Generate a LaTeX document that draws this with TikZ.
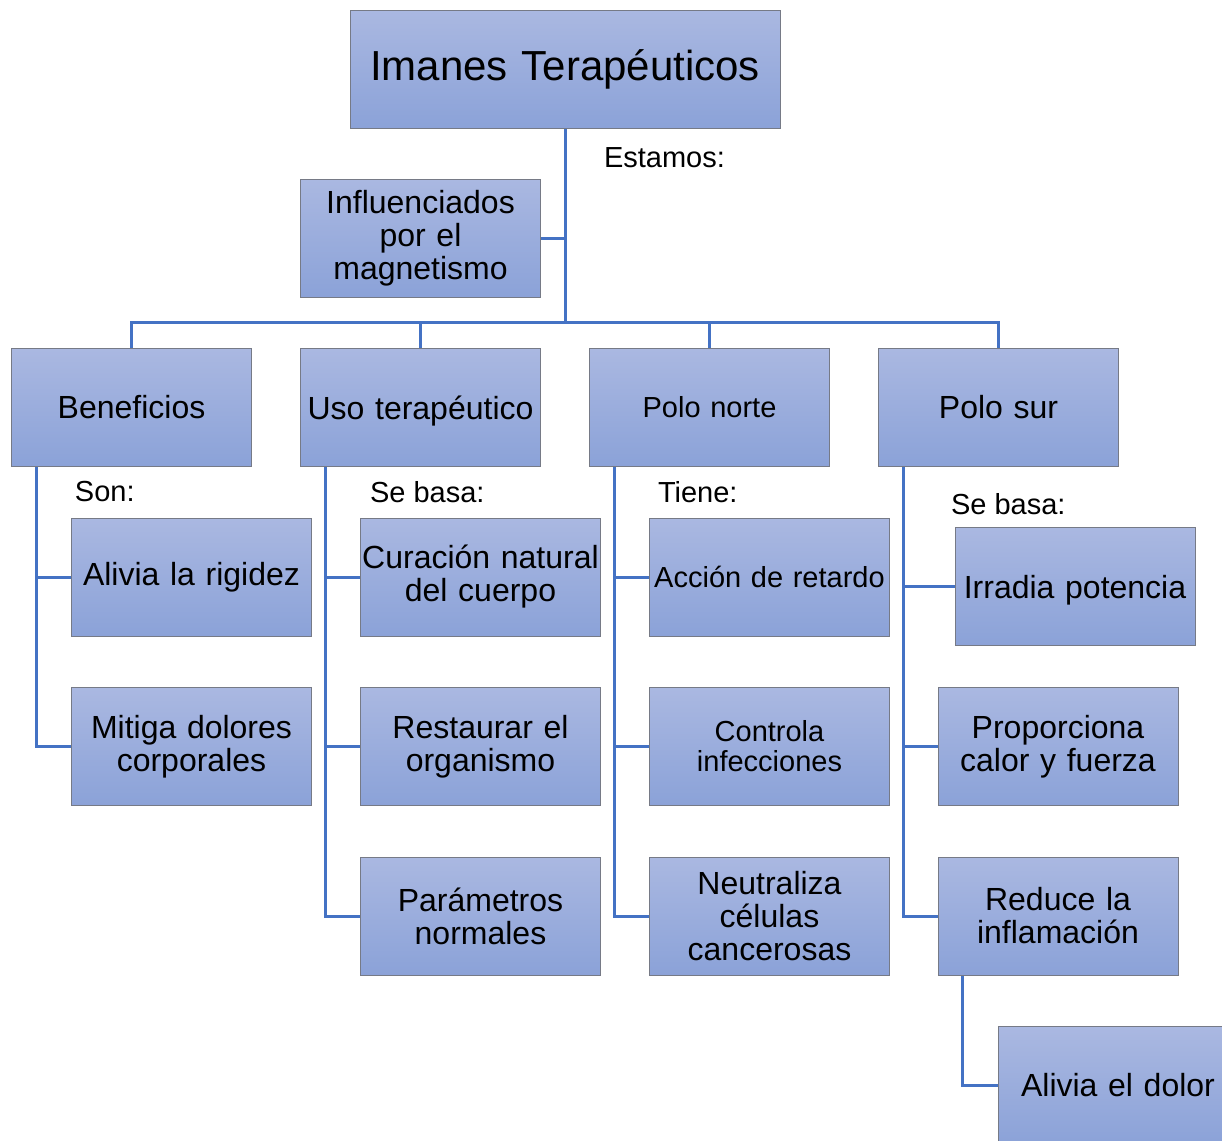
\documentclass[tikz,border=0pt]{standalone}
\usepackage{fontspec}
\setmainfont{Liberation Sans}
\usepackage{tikz}
\usepackage{xcolor}
\definecolor{boxtop}{RGB}{170,184,225}
\definecolor{boxbot}{RGB}{139,162,216}
\definecolor{boxedge}{RGB}{118,122,134}
\definecolor{linkblue}{RGB}{68,114,196}
\tikzstyle{block} = [rectangle, draw=boxedge, line width=0.5pt, top color=boxtop, bottom color=boxbot, text width=119pt, align=center, minimum width=120pt, minimum height=59pt, inner sep=0pt, font=\fontsize{16}{16.5}\selectfont]
\tikzstyle{blocks} = [block, font=\fontsize{14.5}{15}\selectfont]
\tikzstyle{blockt} = [block, text width=210pt, minimum width=215pt, font=\fontsize{21}{24}\selectfont]
\tikzstyle{tag} = [inner sep=0, outer sep=0, anchor=west, font=\fontsize{14.5}{15}\selectfont]
\tikzstyle{line} = [draw=linkblue, line width=1.5pt]

\begin{document}
\begin{tikzpicture}[x=0.5pt, y=-0.5pt, node distance=144.5pt]
\useasboundingbox (0,0) rectangle (1222,1141);
\clip (0,0) rectangle (1222,1141);

\node [blockt] (I) at (565,69) {Imanes Terapéuticos};
\node [block] (M) at (420.5,238) {Influenciados\\por el\\magnetismo};
\node [block] (B) at (131.5,407.5) {Beneficios};
\node [block, right of=B] (U) {\raisebox{0pt}[\height][0pt]{Uso terapéutico}};
\node [blocks, right of=U] (N) {Polo norte};
\node [block, right of=N] (S) {Polo sur};

\begin{scope}[node distance=84.75pt]
\node [block, below of=B, xshift=30pt] (B1) {Alivia la rigidez};
\node [block, below of=B1] (B2) {Mitiga dolores\\corporales};

\node [block, below of=U, xshift=30pt] (U1) {\mbox{Curación natural}\\del cuerpo};
\node [block, below of=U1] (U2) {Restaurar el\\organismo};
\node [block, below of=U2] (U3) {Parámetros\\normales};

\node [blocks, below of=N, xshift=30pt] (N1) {Acción de retardo};
\node [blocks, below of=N1] (N2) {Controla\\infecciones};
\node [block, below of=N2] (N3) {Neutraliza\\células\\cancerosas};

\node [block, below of=S, xshift=38.25pt, yshift=-4.75pt] (S1) {\raisebox{0pt}[\height][0pt]{Irradia potencia}};
\node [block, below of=S, node distance=169.5pt, xshift=29.75pt] (S2) {Proporciona\\calor y fuerza};
\node [block, below of=S2] (S3) {Reduce la\\inflamación};
\node [block, below of=S3, xshift=30pt] (S4) {Alivia el dolor};
\end{scope}

\node [tag] (estamos) at (604,158) {Estamos:};
\node [tag] (son) at (75,492) {Son:};
\node [tag] (basaU) at (370,492) {Se basa:};
\node [tag] (tiene) at (658,492) {Tiene:};
\node [tag] (basaS) at (951,504) {Se basa:};

\coordinate (bus) at ([yshift=-97pt]I.south);
\path [line] (I.south) -- (bus);
\path [line] (M.east) -- (M.east -| bus);
\path [line] (bus) -| (B.north);
\path [line] (bus) -| (U.north);
\path [line] (bus) -| (N.north);
\path [line] (bus) -| (S.north);

\path [line] ([xshift=12.5pt]B.south west) |- (B1.west);
\path [line] ([xshift=12.5pt]B.south west) |- (B2.west);

\path [line] ([xshift=12.5pt]U.south west) |- (U1.west);
\path [line] ([xshift=12.5pt]U.south west) |- (U2.west);
\path [line] ([xshift=12.5pt]U.south west) |- (U3.west);

\path [line] ([xshift=12.5pt]N.south west) |- (N1.west);
\path [line] ([xshift=12.5pt]N.south west) |- (N2.west);
\path [line] ([xshift=12.5pt]N.south west) |- (N3.west);

\path [line] ([xshift=12.5pt]S.south west) |- (S1.west);
\path [line] ([xshift=12.5pt]S.south west) |- (S2.west);
\path [line] ([xshift=12.5pt]S.south west) |- (S3.west);
\path [line] ([xshift=12.5pt]S3.south west) |- (S4.west);

\end{tikzpicture}
\end{document}
